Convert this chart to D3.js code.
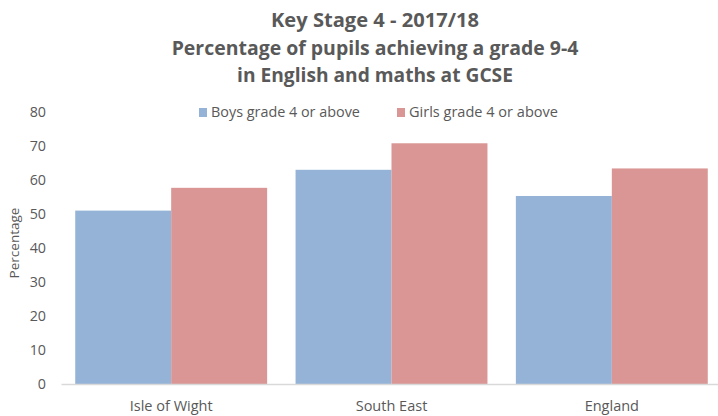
<!DOCTYPE html>
<html>
<head>
<meta charset="utf-8">
<script src="https://cdn.jsdelivr.net/npm/d3@7"></script>
<style>
  body { margin: 0; background: #fff; }
  svg { display: block; font-family: "Open Sans", sans-serif; }
</style>
</head>
<body>
<svg id="chart" width="718" height="416"></svg>
<script>
// data
var titleLines = ["Key Stage 4 - 2017/18", "Percentage of pupils achieving a grade 9-4", "in English and maths at GCSE"];
var categories = ["Isle of Wight", "South East", "England"];
var seriesNames = ["Boys grade 4 or above", "Girls grade 4 or above"];
var boys = [51.0, 63.0, 55.3];
var girls = [57.7, 70.8, 63.4];
var yTicks = [0, 10, 20, 30, 40, 50, 60, 70, 80];
var yTitle = "Percentage";

var colors = ["#95b3d7", "#d99694"];
var textColor = "#595959";

var svg = d3.select("#chart");

// shrink/grow font so text fits a width
function fit(sel, w) {
  var fs = parseFloat(sel.attr("font-size"));
  var len = sel.node().getComputedTextLength();
  sel.attr("font-size", (fs * w / len).toFixed(2));
}

// scales
var x = d3.scaleBand().domain(categories).range([61, 722]).paddingInner(0.129).paddingOuter(0.0646);
var x1 = d3.scaleBand().domain([0, 1]).range([0, x.bandwidth()]);
var y = d3.scaleLinear().domain([0, 80]).range([384, 112]);

// title
var titleBase = [27, 55, 82];
var titleW = [208, 407, 276];
titleLines.forEach(function (t, i) {
  var el = svg.append("text")
    .attr("x", 375)
    .attr("y", titleBase[i])
    .attr("text-anchor", "middle")
    .attr("font-weight", "bold")
    .attr("font-size", 18)
    .attr("fill", textColor)
    .text(t);
  fit(el, titleW[i]);
});

// bars
var groups = svg.append("g").selectAll("g")
  .data(categories)
  .join("g")
  .attr("transform", function (d) { return "translate(" + x(d) + ",0)"; });

groups.selectAll("rect")
  .data(function (d, i) { return [boys[i], girls[i]]; })
  .join("rect")
  .attr("x", function (d, j) { return x1(j); })
  .attr("y", function (d) { return y(d); })
  .attr("width", x1.bandwidth())
  .attr("height", function (d) { return y(0) - y(d); })
  .attr("fill", function (d, j) { return colors[j]; });

// y axis (labels only)
var yAxis = svg.append("g")
  .attr("transform", "translate(46,0)")
  .call(d3.axisLeft(y).tickValues(yTicks).tickSize(0).tickPadding(0));
yAxis.select(".domain").remove();
yAxis.selectAll("text")
  .attr("font-family", "Open Sans, sans-serif")
  .attr("font-size", 14.3)
  .attr("fill", textColor);

// x axis
var xAxis = svg.append("g")
  .attr("transform", "translate(0,384)")
  .call(d3.axisBottom(x).tickSize(0).tickPadding(17));
xAxis.select(".domain")
  .attr("stroke", "#d9d9d9")
  .attr("stroke-width", 1.5);
xAxis.selectAll("text")
  .attr("font-family", "Open Sans, sans-serif")
  .attr("font-size", 14)
  .attr("fill", textColor);
fit(xAxis.select(".tick text"), 83);
xAxis.selectAll("text").attr("font-size", xAxis.select(".tick text").attr("font-size"));

// y title
svg.append("text")
  .attr("transform", "translate(19,243) rotate(-90)")
  .attr("text-anchor", "middle")
  .attr("font-size", 13.5)
  .attr("fill", textColor)
  .text(yTitle);

// legend
var legX = [199, 397];
seriesNames.forEach(function (s, i) {
  svg.append("rect")
    .attr("x", legX[i])
    .attr("y", 108)
    .attr("width", 8)
    .attr("height", 9)
    .attr("fill", colors[i]);
  var t = svg.append("text")
    .attr("x", legX[i] + 12)
    .attr("y", 117)
    .attr("font-size", 14)
    .attr("fill", textColor)
    .text(s);
  fit(t, 149);
});
</script>
</body>
</html>
